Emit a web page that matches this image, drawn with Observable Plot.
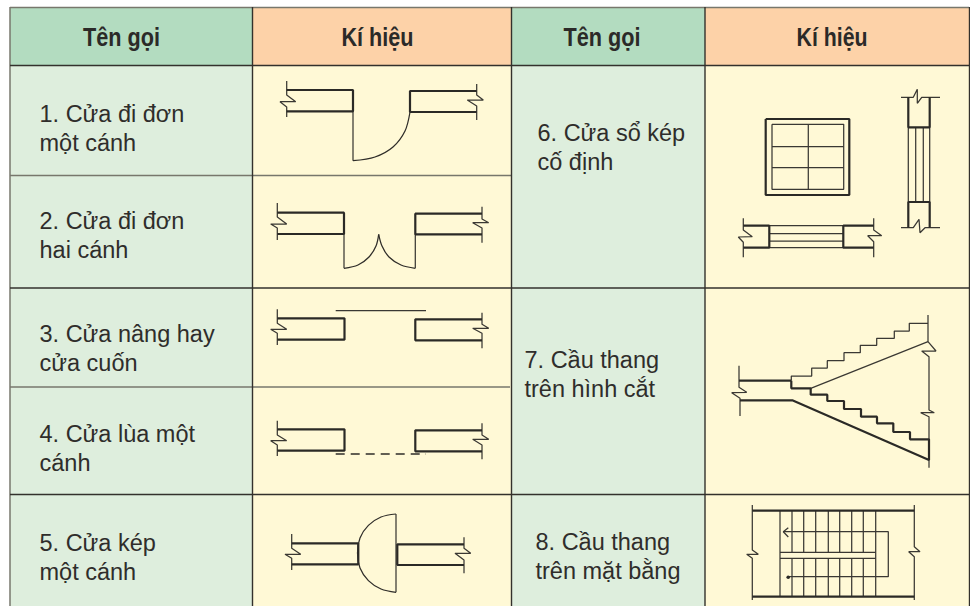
<!DOCTYPE html>
<html>
<head>
<meta charset="utf-8">
<script src="https://cdn.jsdelivr.net/npm/d3@7"></script>
<script src="https://cdn.jsdelivr.net/npm/@observablehq/plot@0.6"></script>
<style>html,body{margin:0;padding:0;background:#fff}svg{display:block}</style>
</head>
<body>
<div id="chart"></div>
<script>
// ---- table structure ----
const cellFills = [
  [10,252,7,65,"#b3dcc0"],[252,512,7,65,"#fdd2a8"],[512,705,7,65,"#b3dcc0"],[705,969,7,65,"#fdd2a8"],
  [10,252,65,606,"#deeedd"],[252,512,65,606,"#fff9d6"],[512,705,65,606,"#deeedd"],[705,969,65,606,"#fff9d6"]
];
const headers = [[121,"Tên gọi",77],[377,"Kí hiệu",72],[601.5,"Tên gọi",77],[831.5,"Kí hiệu",71]];
const names = [
  [39,114,"1. Cửa đi đơn"],[39,143,"một cánh"],
  [39,221,"2. Cửa đi đơn"],[39,250,"hai cánh"],
  [39,334,"3. Cửa nâng hay"],[39,363,"cửa cuốn"],
  [39,434,"4. Cửa lùa một"],[39,463,"cánh"],
  [39,543,"5. Cửa kép"],[39,572,"một cánh"],
  [537,133,"6. Cửa sổ kép"],[537,162,"cố định"],
  [524,360,"7. Cầu thang"],[524,389,"trên hình cắt"],
  [535,542,"8. Cầu thang"],[535,571,"trên mặt bằng"]
];
const gridDark = [
  [[10,65.5],[969,65.5]],[[10,288],[969,288]],[[10,494.5],[969,494.5]],
  [[252.5,7],[252.5,606]],[[511.5,7],[511.5,606]],[[705,7],[705,606]],[[969.5,7],[969.5,606]]
];
const gridGrey = [
  [[10,7.5],[969,7.5]],[[10,7],[10,606]],[[10,175.5],[512,175.5]],[[10,387],[510,387]]
];

// ---- drawing strokes, in picture units ----
const heavy = [
  // 1
  [[286.7,90],[353,90],[353,111.3],[286.7,111.3]],
  [[476.7,91],[410,91],[410,112],[476.7,112]],
  // 2
  [[277.3,212.7],[344,212.7],[344,234],[277.3,234]],
  [[482,213.7],[415.3,213.7],[415.3,234.3],[482,234.3]],
  // 3
  [[277.3,318.3],[344.5,318.3],[344.5,339.7],[277.3,339.7]],
  [[482,319.3],[415.3,319.3],[415.3,340.3],[482,340.3]],
  // 4
  [[277.3,429.3],[344.5,429.3],[344.5,450.7],[277.3,450.7]],
  [[482,430.3],[415.3,430.3],[415.3,451.3],[482,451.3]],
  // 5
  [[291.7,543.3],[358.3,543.3],[358.3,564.3],[291.7,564.3]],
  [[464,544.3],[397.3,544.3],[397.3,565],[464,565]],
  // 6
  [[765.7,119],[849.3,119],[849.3,195],[765.7,195],[765.7,119]],
  [[743.3,225.7],[769.3,225.7],[769.3,247.7],[743.3,247.7]],
  [[873.7,225.7],[843.3,225.7],[843.3,247.7],[873.7,247.7]],
  [[908.3,97.3],[908.3,127.3],[929.7,127.3],[929.7,97.3]],
  [[908.3,227.7],[908.3,202],[929.7,202],[929.7,227.7]],
  // 7
  [[739,380.7],[791.3,380.7]],
  [[740,400.3],[792.3,400.3],[929,460],[929,439.3],[910,439.3],[910,432],[893.3,432],[893.3,423.3],[877,423.3],[877,416.7],[861,416.7],[861,409],[844,409],[844,401],[827.3,401],[827.3,394.7],[810.7,394.7],[810.7,388.3],[791.3,388.3],[791.3,380.7]],
  // 8
  [[752.3,510.7],[914.3,510.7]],
  [[752.3,596.7],[914.3,596.7]]
];
const fine = [
  // 1
  [[286.7,81],[286.7,95],[295.7,101.7],[280,101.7],[286.7,107],[286.7,117]],
  [[476.7,84],[476.7,95],[483.3,100],[467.3,100],[476.7,106],[476.7,120]],
  [[353,111],[353,160.7]],
  // 2
  [[277.3,203],[277.3,217],[286.7,224],[270.7,224],[277.3,228],[277.3,240]],
  [[482,206.7],[482,219],[488.7,222.7],[472.7,222.7],[482,228],[482,242.7]],
  [[344,234],[344,268.3]],
  [[415.3,234],[415.3,268.3]],
  // 3
  [[277.3,309.3],[277.3,323.3],[286.7,329.3],[270.7,329.3],[277.3,333.3],[277.3,345]],
  [[482,312.7],[482,324.3],[488.7,328.3],[472.7,328.3],[482,333.3],[482,348.3]],
  [[335.7,310.7],[426,310.7]],
  // 4
  [[277.3,420.7],[277.3,435],[286.7,440.7],[270.7,440.7],[277.3,445],[277.3,456]],
  [[482,423.3],[482,435],[488.7,439.3],[472.7,439.3],[482,445],[482,459.3]],
  // 5
  [[291.7,534],[291.7,548.3],[300.7,554.3],[285,554.3],[291.7,558.3],[291.7,570]],
  [[464,537.3],[464,548.3],[470.7,553.3],[455,553.3],[464,560],[464,573.3]],
  [[396,514],[396,592.3]],
  // 6
  [[772,124.3],[843.7,124.3],[843.7,189.3],[772,189.3],[772,124.3]],
  [[808.3,124.3],[808.3,189.3]],
  [[772,146.7],[843.7,146.7]],
  [[772,167.7],[843.7,167.7]],
  [[743.3,218.3],[743.3,230],[752.3,236.7],[738.3,237],[743.3,242.3],[743.3,257.3]],
  [[873.7,218.3],[873.7,230],[881.7,235.7],[867.7,235.7],[873.7,241.7],[873.7,257.3]],
  [[769.3,225.7],[843.3,225.7]],
  [[769.3,233.7],[843.3,233.7]],
  [[769.3,241],[843.3,241]],
  [[769.3,247.7],[843.3,247.7]],
  [[901,97.3],[913.3,97.3],[917.3,89.3],[917.3,103.3],[921.7,97.3],[940,97.3]],
  [[901,227.7],[913.3,227.7],[919,219.3],[920,232.7],[925,227.7],[940,227.7]],
  [[908.3,127.3],[908.3,202]],
  [[915.7,127.3],[915.7,202]],
  [[923.3,127.3],[923.3,202]],
  [[929.7,127.3],[929.7,202]],
  // 7
  [[739,365.7],[739,387.3],[746.7,392.3],[731.7,392.7],[740,398.3],[740,416]],
  [[928,315],[928,341.7],[936,351],[921.7,351],[929,356.7],[929,410],[934.3,412.7],[920.7,412.7],[929,416.7],[929,467.7]],
  [[791.3,380.7],[791.3,376],[811.7,376],[811.7,368],[827.3,368],[827.3,360.7],[844,360.7],[844,352.7],[860.3,352.7],[860.3,345.3],[876.7,345.3],[876.7,338.3],[894.3,338.3],[894.3,331],[909.3,331],[909.3,323.3],[928,323.3]],
  [[810.7,388.3],[928,341.7]],
  // 8
  [[752.3,505],[752.3,550],[758.3,554.3],[746.7,554.3],[752.3,558.3],[752.3,600]],
  [[914.3,505],[914.3,546.7],[920,551.7],[908.7,551.7],[914.3,556.7],[914.3,600]],
  [[780,510.7],[780,596.7]],[[875.7,510.7],[875.7,596.7]],
  [[780,552.3],[875.7,552.3]],[[780,558.3],[875.7,558.3]],
  [[792,510.7],[792,552.3]],[[803.7,510.7],[803.7,552.3]],[[815.7,510.7],[815.7,552.3]],[[828.3,510.7],[828.3,552.3]],
  [[839.7,510.7],[839.7,552.3]],[[851.7,510.7],[851.7,552.3]],[[863.3,510.7],[863.3,552.3]],
  [[792,558.3],[792,596.7]],[[803.7,558.3],[803.7,596.7]],[[815.7,558.3],[815.7,596.7]],[[828.3,558.3],[828.3,596.7]],
  [[839.7,558.3],[839.7,596.7]],[[851.7,558.3],[851.7,596.7]],[[863.3,558.3],[863.3,596.7]],
  [[783.3,531.7],[888.3,531.7],[888.3,576.7],[787.7,576.7]],
  [[788.3,527.7],[783.3,531.7],[788.3,537]]
];
const arcs = [
  [[353,160.7],[375,157],[393,147],[405,131],[410,112]],
  [[344,268.3],[358,265],[369,257],[376,246],[378.7,234.3]],
  [[415.3,268.3],[401,265],[389,257],[382,246],[378.7,234.3]],
  [[396,514],[381,517],[368.4,525.4],[360,538],[357.5,553],[360,568],[368.4,580.6],[381,589],[396,592.3]]
];
const dashed = [[[335.7,454],[426,454]]];
const dots = [[787.7,576.7]];

const toRows = lines => lines.flatMap((pts,i)=>pts.map(p=>({i,x:p[0],y:p[1]})));
const lineMark = (lines,o) => Plot.line(toRows(lines),{x:"x",y:"y",z:"i",dx:-0.5,dy:-0.5,strokeLinecap:"butt",strokeLinejoin:"miter",...o});

const plot = Plot.plot({
  width:970,height:606,
  marginTop:0,marginRight:0,marginBottom:0,marginLeft:0,
  style:{background:"#fff"},
  x:{domain:[0,970],range:[0,970],axis:null},
  y:{domain:[0,606],range:[0,606],axis:null},
  marks:[
    Plot.rect(cellFills,{x1:d=>d[0],x2:d=>d[1],y1:d=>d[2],y2:d=>d[3],fill:d=>d[4]}),
    lineMark(gridGrey,{stroke:"#77776c",strokeWidth:1.5}),
    lineMark(gridDark,{stroke:"#33312c",strokeWidth:1.4}),
    lineMark(fine,{stroke:"#3a3833",strokeWidth:1.25}),
    lineMark(heavy,{stroke:"#2b2a26",strokeWidth:2.2}),
    lineMark(arcs,{stroke:"#2f2d29",strokeWidth:1.25,curve:"catmull-rom"}),
    lineMark(dashed,{stroke:"#2f2d29",strokeWidth:1.3,strokeDasharray:"9,6"}),
    Plot.dot(dots,{x:d=>d[0],y:d=>d[1],r:1.8,fill:"#2b2a26"}),
    Plot.text(headers,{x:d=>d[0],y:()=>37,text:d=>d[1],className:"hdr",fontFamily:"'Liberation Sans',Arial,sans-serif",fontWeight:"bold",fontSize:25,fill:"#2b2a28",textAnchor:"middle"}),
    Plot.text(names,{x:d=>d[0],y:d=>d[1],text:d=>d[2],fontFamily:"'Liberation Sans',Arial,sans-serif",fontSize:23.5,fill:"#2f2d2b",textAnchor:"start"})
  ]
});
// The header face is condensed in the source: fit each label to its measured width.
d3.select(plot).selectAll(".hdr text").each(function(d,i){
  this.setAttribute("textLength",headers[i][2]);
  this.setAttribute("lengthAdjust","spacingAndGlyphs");
});
document.getElementById("chart").appendChild(plot);
</script>
</body>
</html>
